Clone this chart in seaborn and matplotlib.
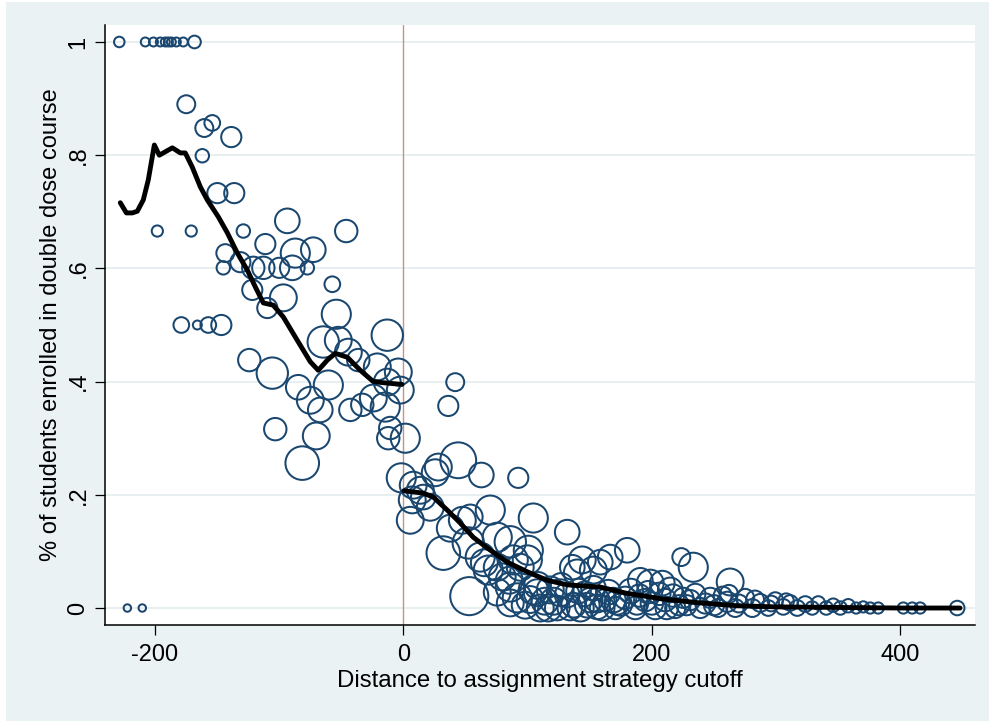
import matplotlib
matplotlib.use("Agg")
import matplotlib.pyplot as plt
import matplotlib.patches as mpatches
import numpy as np
import pandas as pd
import seaborn as sns

# ---------------- data ----------------
# top row (share = 1) and the two zero points at the far left
top_dist = [-228.5, -207.6, -201.0, -195.5, -191.5, -189.0, -186.6, -182.6, -177.0, -168.0,
            -222.0, -210.0]
top_share = [1, 1, 1, 1, 1, 1, 1, 1, 1, 1,
             0, 0]
top_n = [22, 16, 16, 16, 16, 16, 16, 16, 16, 32,
         11, 11]

# below the cutoff
left_dist = [-174.6, -160.1, -153.7, -138.4, -161.7, -149.6, -136.0, -197.9, -170.6, -128.7,
             -111.0, -143.2, -144.8, -131.1, -120.7, -112.6, -121.5, -109.4, -178.6, -165.7,
             -156.9, -146.4, -123.9, -105.4, -93.3, -45.9, -86.9, -72.4, -99.8, -89.3,
             -77.2, -57.1, -96.5, -53.9, -12.9, -64.4, -52.3, -44.2, -36.2, -20.9,
             -4.0, -12.9, -60.3, -84.5, -2.4, -74.8, -66.8, -42.6, -33.0, -24.1,
             -103.0, -10.5, -70.0, -81.3, -12.1, 1.6, -14.5]
left_share = [0.890, 0.848, 0.857, 0.832, 0.799, 0.733, 0.733, 0.666, 0.666, 0.666,
              0.643, 0.627, 0.601, 0.611, 0.601, 0.601, 0.562, 0.530, 0.500, 0.500,
              0.500, 0.500, 0.438, 0.415, 0.684, 0.666, 0.627, 0.633, 0.601, 0.601,
              0.601, 0.572, 0.548, 0.519, 0.482, 0.470, 0.473, 0.452, 0.438, 0.426,
              0.417, 0.399, 0.394, 0.390, 0.385, 0.367, 0.350, 0.350, 0.359, 0.371,
              0.316, 0.318, 0.304, 0.256, 0.300, 0.300, 0.355]
left_n = [64, 64, 49, 81, 36, 81, 81, 25, 25, 36,
          81, 64, 36, 81, 100, 100, 81, 81, 49, 16,
          49, 81, 100, 196, 121, 100, 169, 121, 81, 121,
          36, 49, 144, 169, 196, 196, 144, 144, 100, 144,
          144, 144, 169, 121, 144, 144, 121, 100, 100, 144,
          100, 100, 144, 225, 100, 169, 169]

# above the cutoff
right_dist = [41.8, 36.2, -1.6, 8.0, 7.2, 16.1, 21.7, 28.2, 25.7, 44.2,
              62.8, 92.5, 5.6, 37.8, 47.5, 53.9, 70.0, 104.6, 32.2, 52.3,
              61.9, 68.4, 75.6, 86.1, 100.6, 88.5, 99.8, 79.6, 53.1, 91.7,
              107.8, 126.3, 116.7, 131.9, 144.0, 140.0, 152.9, 166.5, 156.0, 169.0,
              142.4, 180.2, 158.5, 136.0, 190.7, 198.7, 208.4, 214.8, 223.7, 233.3,
              263.0, 85.3, 75.6, 65.2, 94.1, 13.7]
right_share = [0.399, 0.357, 0.230, 0.217, 0.191, 0.196, 0.178, 0.249, 0.239, 0.261,
               0.235, 0.230, 0.155, 0.141, 0.155, 0.161, 0.173, 0.159, 0.097, 0.115,
               0.090, 0.067, 0.125, 0.117, 0.102, 0.085, 0.085, 0.055, 0.021, 0.018,
               0.027, 0.027, 0.000, 0.134, 0.085, 0.062, 0.067, 0.090, 0.014, 0.014,
               0.000, 0.102, 0.081, 0.072, 0.049, 0.044, 0.044, 0.032, 0.090, 0.072,
               0.046, 0.049, 0.072, 0.080, 0.072, 0.208]
right_n = [64, 81, 169, 144, 144, 121, 144, 144, 144, 256,
           121, 81, 144, 144, 144, 121, 169, 169, 225, 196,
           169, 169, 169, 196, 169, 169, 169, 144, 289, 169,
           144, 144, 144, 121, 144, 144, 144, 121, 121, 121,
           144, 121, 121, 121, 121, 144, 121, 121, 64, 169,
           144, 144, 144, 144, 144, 144]

# dense band near zero
band_dist = [75.6, 86.1, 86.1, 98.1, 104.6, 110.2, 118.3, 123.9, 131.9, 150.4,
             156.1, 162.5, 170.6, 178.6, 186.6, 194.7, 202.7, 210.8, 218.8, 225.3,
             230.9, 238.9, 247.0, 253.4, 260.7, 267.1, 275.1, 280.8, 287.2, 293.6,
             299.3, 305.7, 311.3, 317.0, 323.4, 329.0, 333.9, 340.3, 345.9, 351.6,
             358.0, 364.4, 370.1, 375.7, 382.1, 402.3, 409.5, 415.9, 445.7,
             114.0, 137.0, 146.0, 175.0, 190.0, 206.0, 222.0, 243.0, 257.0, 270.0,
             102.0, 108.0, 121.0, 127.0, 134.0, 141.0, 148.0, 153.0, 160.0, 165.0,
             172.0, 183.0, 188.0, 197.0, 200.0, 212.0, 217.0, 228.0, 235.0, 250.0,
             262.0, 283.0, 296.0, 308.0]
band_share = [0.028, 0.009, 0.037, 0.005, 0.032, 0.000, 0.032, 0.000, 0.023, 0.014,
              0.002, 0.014, 0.000, 0.018, 0.000, 0.014, 0.000, 0.014, 0.000, 0.018,
              0.014, 0.000, 0.018, 0.000, 0.011, 0.000, 0.018, 0.000, 0.009, 0.000,
              0.014, 0.002, 0.009, 0.000, 0.007, 0.000, 0.009, 0.000, 0.005, 0.000,
              0.004, 0.000, 0.002, 0.000, 0.000, 0.000, 0.000, 0.000, 0.000,
              0.012, 0.005, 0.025, 0.006, 0.022, 0.025, 0.005, 0.008, 0.022, 0.008,
              0.015, 0.040, 0.012, 0.040, 0.000, 0.030, 0.005, 0.035, 0.000, 0.028,
              0.010, 0.030, 0.008, 0.028, 0.008, 0.000, 0.022, 0.005, 0.025, 0.005,
              0.025, 0.015, 0.008, 0.012]
band_n = [144, 144, 169, 144, 169, 144, 144, 121, 121, 121,
          121, 100, 100, 100, 100, 100, 100, 100, 81, 81,
          81, 81, 81, 64, 81, 64, 64, 64, 64, 49,
          49, 49, 49, 49, 49, 36, 36, 36, 36, 36,
          36, 25, 25, 25, 25, 25, 25, 25, 42,
          144, 121, 121, 100, 100, 100, 81, 81, 64, 64,
          144, 144, 144, 121, 121, 121, 121, 121, 121, 121,
          121, 121, 100, 100, 100, 100, 100, 81, 81, 81,
          64, 64, 49, 49]

# smoothed lines on each side of the cutoff
smooth_left_x = [-227.7, -222.8, -218.0, -214.0, -209.2, -205.2, -200.3, -196.3, -191.5, -185.8,
                 -179.4, -175.4, -169.8, -163.3, -157.7, -148.8, -141.6, -133.5, -125.5, -119.0,
                 -112.6, -104.6, -96.5, -85.3, -74.8, -68.4, -61.1, -54.7, -45.0, -34.6,
                 -24.1, -16.0, -1.0]
smooth_left_y = [0.716, 0.698, 0.698, 0.701, 0.721, 0.756, 0.818, 0.800, 0.806, 0.813,
                 0.804, 0.804, 0.779, 0.744, 0.721, 0.691, 0.663, 0.627, 0.597, 0.567,
                 0.539, 0.535, 0.514, 0.473, 0.435, 0.420, 0.438, 0.450, 0.443, 0.420,
                 0.400, 0.398, 0.395]
smooth_right_x = [0.5, 16.1, 24.1, 35.4, 45.9, 56.3, 67.6, 83.7, 99.8, 115.8,
                  131.9, 144.8, 158.5, 178.6, 208.4, 239.0, 268.7, 300.0, 350.0, 400.0, 448.0]
smooth_right_y = [0.207, 0.203, 0.196, 0.173, 0.150, 0.125, 0.106, 0.081, 0.064, 0.049,
                  0.041, 0.039, 0.037, 0.0265, 0.016, 0.009, 0.004, 0.002, 0.001, 0.0, 0.0]

x_ticks = [-200, 0, 200, 400]
x_tick_labels = ["-200", "0", "200", "400"]
y_ticks = [0, 0.2, 0.4, 0.6, 0.8, 1.0]
y_tick_labels = ["0", ".2", ".4", ".6", ".8", "1"]

# ---------------- plotting ----------------
df = pd.DataFrame({
    "dist": top_dist + left_dist + right_dist + band_dist,
    "share": top_share + left_share + right_share + band_share,
    "n": top_n + left_n + right_n + band_n,
})

sns.set_theme(style="white")
plt.rcParams["font.family"] = ["Liberation Sans", "DejaVu Sans"]

BG = "#eaf2f3"
NAVY = "#1a476f"
FS = 17

fig = plt.figure(figsize=(9.89, 7.21), dpi=100, facecolor=BG)
# thin white screenshot border on the left/top edge
fig.patches.append(mpatches.Rectangle((0, 0), 6 / 989, 1, transform=fig.transFigure,
                                      facecolor="white", edgecolor="none", zorder=0))
fig.patches.append(mpatches.Rectangle((0, 1 - 2 / 721), 1, 2 / 721, transform=fig.transFigure,
                                      facecolor="white", edgecolor="none", zorder=0))

ax = fig.add_axes([105 / 989, 1 - 625 / 721, 870 / 989, 600 / 721])
ax.set_facecolor("white")

ax.axvline(0, color="#c49488", lw=1.0, zorder=1)

k = 2.6
nmin, nmax = min(df["n"]), max(df["n"])
sns.scatterplot(data=df, x="dist", y="share", size="n",
                sizes=(k * nmin, k * nmax), size_norm=(nmin, nmax),
                marker="o", facecolor="none", edgecolor=NAVY, linewidth=1.45,
                legend=False, ax=ax, zorder=2)
pts = ax.collections[-1]
pts.set_facecolor("none")
pts.set_edgecolor(NAVY)
pts.set_linewidth(1.45)

sns.lineplot(x=smooth_left_x, y=smooth_left_y, color="black", lw=3.5,
             sort=False, estimator=None, ax=ax, zorder=3)
sns.lineplot(x=smooth_right_x, y=smooth_right_y, color="black", lw=3.5,
             sort=False, estimator=None, ax=ax, zorder=3)

ax.set_xlim(-240, 460)
ax.set_ylim(-0.03, 1.03)

ax.set_xticks(x_ticks)
ax.set_xticklabels(x_tick_labels)
ax.set_yticks(y_ticks)
ax.set_yticklabels(y_tick_labels, rotation=90, va="center")

ax.tick_params(axis="both", which="major", direction="out", length=7.2, width=0.9,
               color="black", labelsize=FS, labelcolor="black", left=True, bottom=True)
ax.tick_params(axis="x", pad=6.5)
ax.tick_params(axis="y", pad=4)

ax.grid(axis="y", color="#e6eef0", lw=1.3)
ax.grid(axis="x", visible=False)
ax.set_axisbelow(True)

for s in ["top", "right"]:
    ax.spines[s].set_visible(False)
for s in ["left", "bottom"]:
    ax.spines[s].set_color("black")
    ax.spines[s].set_linewidth(1.1)

ax.set_xlabel("Distance to assignment strategy cutoff", fontsize=FS + 0.3, color="black", labelpad=3)
ax.set_ylabel("% of students enrolled in double dose course", fontsize=FS, color="black", labelpad=4)

fig.savefig("out.png", dpi=100, facecolor=BG)
